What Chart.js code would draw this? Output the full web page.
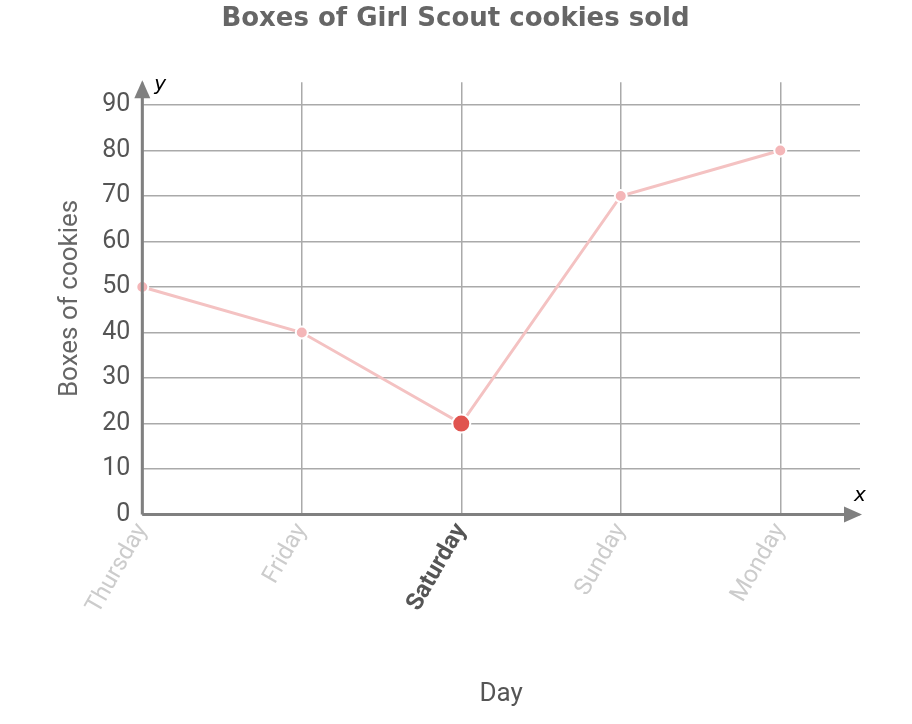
<!DOCTYPE html>
<html><head><meta charset="utf-8">
<script src="https://cdn.jsdelivr.net/npm/chart.js@4/dist/chart.umd.min.js"></script>
<style>body{margin:0;background:#fff}#wrap{width:912px;height:724px}</style>
</head><body><div id="wrap"><canvas id="c"></canvas></div>
<script>
const days = ['Thursday', 'Friday', 'Saturday', 'Sunday', 'Monday'];
const boxes = [50, 40, 20, 70, 80];
const yTicks = [0, 10, 20, 30, 40, 50, 60, 70, 80, 90];
const highlight = 2;

// axis arrows and the small x / y letters
const arrows = {
    id: 'arrows',
    afterDraw(chart) {
        const { ctx, chartArea: a } = chart;
        const y0 = chart.scales.y.getPixelForValue(0);
        ctx.save();
        ctx.strokeStyle = '#808080'; ctx.fillStyle = '#808080'; ctx.lineWidth = 3;
        ctx.beginPath(); ctx.moveTo(a.left, y0); ctx.lineTo(a.right - 4, y0);
        ctx.moveTo(a.left, y0); ctx.lineTo(a.left, a.top + 4); ctx.stroke();
        ctx.beginPath(); ctx.moveTo(a.right + 2, y0); ctx.lineTo(a.right - 16, y0 - 8); ctx.lineTo(a.right - 16, y0 + 8); ctx.fill();
        ctx.beginPath(); ctx.moveTo(a.left, a.top - 2); ctx.lineTo(a.left - 8, a.top + 16); ctx.lineTo(a.left + 8, a.top + 16); ctx.fill();
        ctx.fillStyle = '#000'; ctx.font = 'italic 20px "DejaVu Sans"';
        ctx.fillText('y', a.left + 12, a.top + 8);
        ctx.fillText('x', a.right - 6, y0 - 14);
        ctx.restore();
    }
};

new Chart(document.getElementById('c'), {
    type: 'scatter',
    data: {
        datasets: [{
            data: boxes.map((v, i) => ({ x: i, y: v })),
            showLine: true,
            clip: false,
            borderColor: '#f4c2c2',
            borderWidth: 3,
            pointRadius: boxes.map((v, i) => i === highlight ? 9 : 6),
            pointBackgroundColor: boxes.map((v, i) => i === highlight ? '#e0544f' : '#f4b6b8'),
            pointBorderColor: '#fff',
            pointBorderWidth: 2
        }]
    },
    options: {
        responsive: true, maintainAspectRatio: false, animation: false,
        layout: { padding: { left: 51, right: 52, top: 0, bottom: 10 } },
        plugins: {
            legend: { display: false }, tooltip: { enabled: false },
            title: { display: true, text: 'Boxes of Girl Scout cookies sold', color: '#666',
                font: { size: 26, weight: 'bold', family: '"DejaVu Sans"' }, padding: { top: 4, bottom: 47 } }
        },
        scales: {
            x: {
                type: 'linear', min: 0, max: 4.5,
                afterBuildTicks: s => { s.ticks = days.map((d, i) => ({ value: i })); },
                ticks: {
                    callback: v => days[v], maxRotation: 60, minRotation: 60, padding: 4,
                    color: c => c.index === highlight ? '#555' : '#ccc',
                    font: c => ({ size: 24, family: 'Roboto', weight: c.index === highlight ? 'bold' : 'normal' })
                },
                grid: { color: '#aaa', lineWidth: 1.5, drawTicks: false },
                border: { display: false },
                title: { display: true, text: 'Day', color: '#555', font: { size: 26, family: 'Roboto' }, padding: { top: 56 } }
            },
            y: {
                min: 0, max: 95,
                afterBuildTicks: s => { s.ticks = yTicks.map(v => ({ value: v })); },
                ticks: { color: '#555', font: { size: 25, family: 'Roboto' }, padding: 12 },
                grid: { color: '#aaa', lineWidth: 1.5, drawTicks: false },
                border: { display: false },
                title: { display: true, text: 'Boxes of cookies', color: '#666', font: { size: 26, family: 'Roboto' }, padding: { bottom: 4 } }
            }
        }
    },
    plugins: [arrows]
});
</script></body></html>
